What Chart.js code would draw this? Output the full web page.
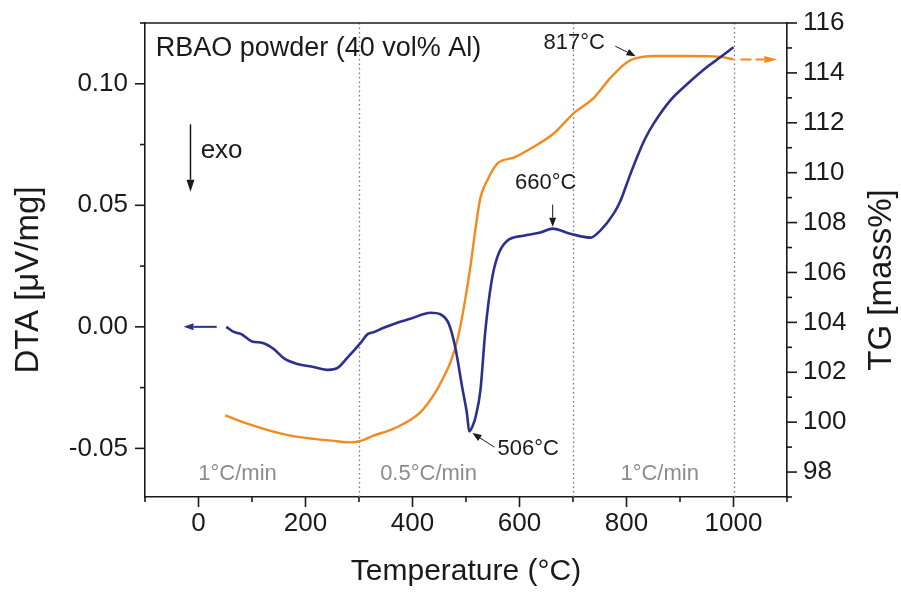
<!DOCTYPE html>
<html>
<head>
<meta charset="utf-8">
<script src="https://cdn.jsdelivr.net/npm/chart.js@4.4.1/dist/chart.umd.min.js"></script>
<style>
  html, body { margin: 0; padding: 0; background: #fff; }
  canvas { display: block; }
</style>
</head>
<body>
<canvas id="dtaChart" width="901" height="593"></canvas>
<script>
// --- data ---
const dtaTemp = [52, 65, 80, 100, 120, 140, 160, 185, 215, 243, 260, 278, 303, 316, 327, 345, 365, 396, 434, 452, 468, 480, 493, 502, 506, 512, 518, 527, 536, 548, 559, 577, 608, 639, 662, 695, 733, 751, 776, 789, 805, 820, 835, 851, 882, 914, 951, 976, 1000];
const dtaValues = [0.000, -0.002, -0.003, -0.006, -0.0066, -0.009, -0.013, -0.0153, -0.0165, -0.0177, -0.0169, -0.0128, -0.0066, -0.003, -0.0022, -0.0005, 0.0012, 0.0033, 0.0058, 0.0052, 0.0012, -0.0085, -0.025, -0.036, -0.043, -0.041, -0.037, -0.026, -0.002, 0.019, 0.029, 0.0354, 0.0375, 0.0388, 0.0404, 0.0383, 0.0367, 0.0396, 0.0466, 0.052, 0.0615, 0.070, 0.0775, 0.0837, 0.0932, 0.100, 0.107, 0.111, 0.115];

const tgTemp = [50, 97, 140, 172, 215, 253, 284, 303, 327, 365, 415, 443, 458, 471, 484, 496, 508, 518, 527, 540, 559, 589, 621, 664, 701, 739, 770, 801, 820, 851, 914, 976, 1000];
const tgValues = [100.27, 99.9, 99.62, 99.46, 99.33, 99.25, 99.19, 99.25, 99.46, 99.74, 100.4, 101.2, 101.8, 102.4, 103.3, 104.6, 106.2, 107.8, 109.0, 109.7, 110.37, 110.6, 110.97, 111.57, 112.38, 113.0, 113.8, 114.43, 114.6, 114.68, 114.68, 114.64, 114.54];

// heating-rate segments (dotted lines) and their labels
const segmentBounds = [300, 700, 1000];
const rateLabels = ['1°C/min', '0.5°C/min', '1°C/min'];
const rateLabelTemps = [73, 430, 862];

// ticks
const xTickValues = [-100, 0, 100, 200, 300, 400, 500, 600, 700, 800, 900, 1000, 1100];
const xMajorTicks = [0, 200, 400, 600, 800, 1000];
const dtaTickValues = [-0.05, -0.025, 0, 0.025, 0.05, 0.075, 0.1, 0.125];
const dtaMajorTicks = [-0.05, 0, 0.05, 0.1];
const tgTickValues = [97, 98, 99, 100, 101, 102, 103, 104, 105, 106, 107, 108, 109, 110, 111, 112, 113, 114, 115, 116];
const tgMajorTicks = [98, 100, 102, 104, 106, 108, 110, 112, 114, 116];

const BLUE = '#2b2f8e';
const ORANGE = '#f48a1e';
const INK = '#1a1a1a';
const FONT = "'Liberation Sans', Arial, Helvetica, sans-serif";

Chart.defaults.font.family = FONT;
Chart.defaults.color = INK;

function drawArrow(ctx, x1, y1, x2, y2, headLen, headW, color, lw, dash) {
  const ang = Math.atan2(y2 - y1, x2 - x1);
  const bx = x2 - headLen * Math.cos(ang), by = y2 - headLen * Math.sin(ang);
  ctx.save();
  ctx.strokeStyle = color;
  ctx.fillStyle = color;
  ctx.lineWidth = lw;
  ctx.setLineDash(dash || []);
  ctx.beginPath();
  ctx.moveTo(x1, y1);
  ctx.lineTo(bx, by);
  ctx.stroke();
  ctx.setLineDash([]);
  ctx.beginPath();
  ctx.moveTo(x2, y2);
  ctx.lineTo(bx + headW * Math.sin(ang), by - headW * Math.cos(ang));
  ctx.lineTo(bx - headW * Math.sin(ang), by + headW * Math.cos(ang));
  ctx.closePath();
  ctx.fill();
  ctx.restore();
}

function text(ctx, str, x, y, size, color, align) {
  ctx.save();
  ctx.font = size + 'px ' + FONT;
  ctx.fillStyle = color;
  ctx.textAlign = align || 'left';
  ctx.textBaseline = 'middle';
  ctx.fillText(str, x, y);
  ctx.restore();
}

function vtext(ctx, str, x, y, size) {
  ctx.save();
  ctx.translate(x, y);
  ctx.rotate(-Math.PI / 2);
  text(ctx, str, 0, 0, size, INK, 'center');
  ctx.restore();
}

const decorPlugin = {
  id: 'decor',
  beforeDatasetsDraw(chart) {
    const { ctx, chartArea: a, scales } = chart;
    ctx.save();
    ctx.strokeStyle = '#777';
    ctx.lineWidth = 1.3;
    ctx.setLineDash([1.5, 3]);
    segmentBounds.forEach(t => {
      const x = Math.round(scales.x.getPixelForValue(t)) + 0.5;
      ctx.beginPath();
      ctx.moveTo(x, a.top);
      ctx.lineTo(x, a.bottom);
      ctx.stroke();
    });
    ctx.restore();
  },
  afterDraw(chart) {
    const { ctx, chartArea: a, scales } = chart;
    const X = v => scales.x.getPixelForValue(v);
    const Y = v => scales.y.getPixelForValue(v);
    const Y2 = v => scales.y2.getPixelForValue(v);

    // frame top line
    ctx.save();
    ctx.strokeStyle = INK;
    ctx.lineWidth = 1.6;
    ctx.beginPath();
    ctx.moveTo(a.left, a.top);
    ctx.lineTo(a.right, a.top);
    ctx.stroke();

    // outward tick marks, long for major, short for minor
    const tickMarks = (scale, majors, side) => {
      scale.ticks.forEach(t => {
        const len = majors.includes(t.value) ? 10 : 5;
        const p = scale.getPixelForValue(t.value);
        ctx.beginPath();
        if (side === 'bottom') { ctx.moveTo(p, a.bottom); ctx.lineTo(p, a.bottom + len); }
        if (side === 'left') { ctx.moveTo(a.left, p); ctx.lineTo(a.left - len, p); }
        if (side === 'right') { ctx.moveTo(a.right, p); ctx.lineTo(a.right + len, p); }
        ctx.stroke();
      });
    };
    tickMarks(scales.x, xMajorTicks, 'bottom');
    tickMarks(scales.y, dtaMajorTicks, 'left');
    tickMarks(scales.y2, tgMajorTicks, 'right');
    ctx.restore();

    // y axis titles, both read bottom to top
    vtext(ctx, 'DTA [μV/mg]', 29, 280, 33);
    vtext(ctx, 'TG [mass%]', 882, 280, 33);

    // labels
    text(ctx, 'RBAO powder (40 vol% Al)', X(-80), Y(0.1146), 27, INK);
    text(ctx, 'exo', X(4), Y(0.0725), 26, INK);
    drawArrow(ctx, X(-15), Y(0.0833), X(-15), Y(0.0556), 12, 4, INK, 1.5);

    rateLabels.forEach((s, i) => text(ctx, s, X(rateLabelTemps[i]), Y(-0.0606), 22, '#8c8c8c', 'center'));

    text(ctx, '817°C', X(645), Y2(115.2), 22, INK);
    drawArrow(ctx, X(779), Y2(115.07), X(817), Y2(114.67), 9, 3.5, INK, 1);

    text(ctx, '660°C', X(649), Y(0.0594), 22, INK, 'center');
    drawArrow(ctx, X(662), Y(0.0503), X(662), Y(0.0412), 9, 3.5, INK, 1);

    text(ctx, '506°C', X(559), Y(-0.0503), 22, INK);
    drawArrow(ctx, X(553), Y(-0.0495), X(512), Y(-0.0437), 9, 3.5, INK, 1);

    // axis-pointer arrows for the two curves
    drawArrow(ctx, X(34), Y(0), X(-28), Y(0), 10, 3.5, BLUE, 2);
    drawArrow(ctx, X(1013), Y2(114.54), X(1082), Y2(114.54), 13, 3.5, ORANGE, 2, [11, 4]);
  }
};

const noOverhang = s => { s.paddingTop = 0; s.paddingBottom = 0; };

new Chart(document.getElementById('dtaChart'), {
  type: 'line',
  data: {
    datasets: [
      {
        label: 'DTA',
        data: dtaTemp.map((t, i) => ({ x: t, y: dtaValues[i] })),
        yAxisID: 'y',
        borderColor: BLUE,
        borderWidth: 2.6,
        pointRadius: 0,
        cubicInterpolationMode: 'monotone'
      },
      {
        label: 'TG',
        data: tgTemp.map((t, i) => ({ x: t, y: tgValues[i] })),
        yAxisID: 'y2',
        borderColor: ORANGE,
        borderWidth: 2.4,
        pointRadius: 0,
        cubicInterpolationMode: 'monotone'
      }
    ]
  },
  options: {
    responsive: false,
    animation: false,
    devicePixelRatio: 1,
    layout: { padding: { top: 23, left: 0, right: 0, bottom: 0 } },
    plugins: { legend: { display: false }, tooltip: { enabled: false } },
    scales: {
      x: {
        type: 'linear',
        min: -100,
        max: 1100,
        afterBuildTicks: s => { s.ticks = xTickValues.map(v => ({ value: v })); },
        afterFit: s => { s.height = 96; s.paddingLeft = 0; s.paddingRight = 0; },
        grid: { display: false, drawTicks: false },
        border: { display: true, color: INK, width: 1.6 },
        ticks: {
          autoSkip: false,
          maxRotation: 0,
          padding: 11,
          font: { size: 26 },
          color: INK,
          callback: v => xMajorTicks.includes(v) ? String(v) : ''
        },
        title: {
          display: true,
          text: 'Temperature (°C)',
          font: { size: 30 },
          color: INK,
          padding: { bottom: 3 }
        }
      },
      y: {
        position: 'left',
        min: -0.07,
        max: 0.125,
        afterBuildTicks: s => { s.ticks = dtaTickValues.map(v => ({ value: v })); },
        afterFit: s => { s.width = 145; noOverhang(s); },
        grid: { display: false, drawTicks: false },
        border: { display: true, color: INK, width: 1.6 },
        ticks: {
          autoSkip: false,
          padding: 17,
          font: { size: 26 },
          color: INK,
          callback: v => dtaMajorTicks.includes(v) ? v.toFixed(2) : ''
        }
      },
      y2: {
        position: 'right',
        min: 97,
        max: 116,
        afterBuildTicks: s => { s.ticks = tgTickValues.map(v => ({ value: v })); },
        afterFit: s => { s.width = 114; noOverhang(s); },
        grid: { display: false, drawTicks: false },
        border: { display: true, color: INK, width: 1.6 },
        ticks: {
          autoSkip: false,
          padding: 16,
          font: { size: 26 },
          color: INK,
          callback: v => tgMajorTicks.includes(v) ? String(v) : ''
        }
      }
    }
  },
  plugins: [decorPlugin]
});
</script>
</body>
</html>
